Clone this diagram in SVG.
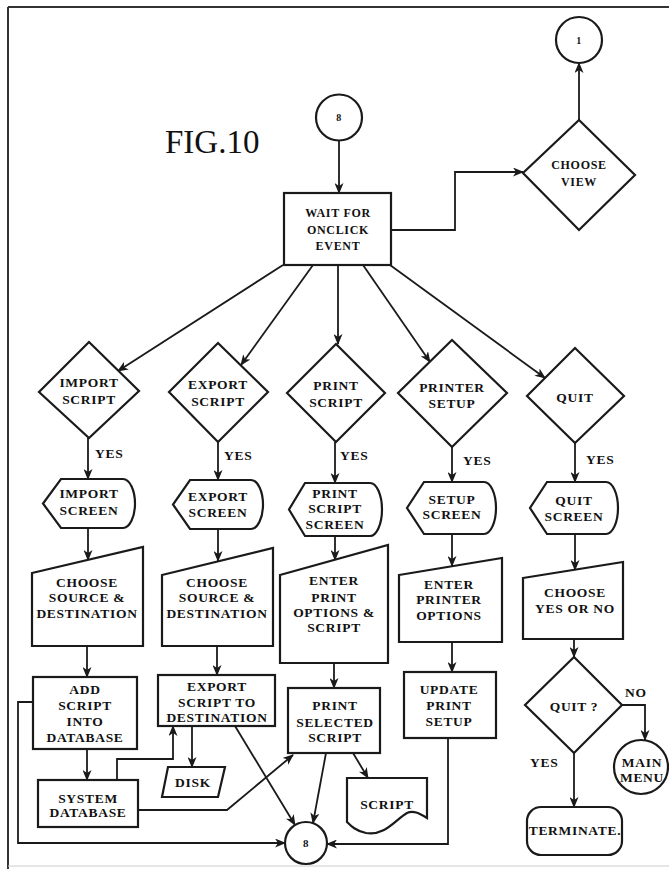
<svg xmlns="http://www.w3.org/2000/svg" width="669" height="869" viewBox="0 0 669 869">
<defs>
<style>
.s{fill:#fff;stroke:#1a1a1a;stroke-width:2.2}
.c{fill:none;stroke:#1a1a1a;stroke-width:1.8}
.t{font-family:"Liberation Serif","Times New Roman",serif;font-weight:bold;font-size:13.5px;fill:#111;text-anchor:middle;letter-spacing:0.7px}
.sm{font-size:12px}
.l{text-anchor:start}
.fig{font-family:"Liberation Serif","Times New Roman",serif;font-size:33px;fill:#111}
</style>
<marker id="a" markerWidth="11" markerHeight="9" refX="10" refY="4.5" orient="auto" markerUnits="userSpaceOnUse">
<path d="M0,0 L11,4.5 L0,9 L3,4.5 z" fill="#1a1a1a"/>
</marker>
</defs>
<rect x="0" y="0" width="669" height="869" fill="#fff"/>
<g id="frame">
<line x1="8" y1="7" x2="669" y2="7" stroke="#333" stroke-width="2"/>
<line x1="8" y1="7" x2="8" y2="869" stroke="#333" stroke-width="2"/>
<line x1="8" y1="866" x2="669" y2="866" stroke="#ccc" stroke-width="1"/>
</g>
<text class="fig" x="165" y="153">FIG.10</text>

<g id="connectors">
<path class="c" d="M339 140 V193" marker-end="url(#a)"/>
<path class="c" d="M391 230 H455 V172 H523" marker-end="url(#a)"/>
<path class="c" d="M579 120 V63" marker-end="url(#a)"/>
<path class="c" d="M283 265 L118 371" marker-end="url(#a)"/>
<path class="c" d="M313 265 L241 365" marker-end="url(#a)"/>
<path class="c" d="M338 265 V344" marker-end="url(#a)"/>
<path class="c" d="M363 265 L430 362" marker-end="url(#a)"/>
<path class="c" d="M390 265 L545 378" marker-end="url(#a)"/>
<path class="c" d="M88 438 V479" marker-end="url(#a)"/>
<path class="c" d="M218 442 V480" marker-end="url(#a)"/>
<path class="c" d="M335 442 V483" marker-end="url(#a)"/>
<path class="c" d="M452 447 V482" marker-end="url(#a)"/>
<path class="c" d="M575 443 V482" marker-end="url(#a)"/>
<path class="c" d="M88 528 V560" marker-end="url(#a)"/>
<path class="c" d="M218 529 V561" marker-end="url(#a)"/>
<path class="c" d="M335 536 V560" marker-end="url(#a)"/>
<path class="c" d="M452 534 V566" marker-end="url(#a)"/>
<path class="c" d="M575 534 V570" marker-end="url(#a)"/>
<path class="c" d="M87 646 V677" marker-end="url(#a)"/>
<path class="c" d="M217 646 V675" marker-end="url(#a)"/>
<path class="c" d="M334 663 V688" marker-end="url(#a)"/>
<path class="c" d="M452 642 V672" marker-end="url(#a)"/>
<path class="c" d="M574 639 V657" marker-end="url(#a)"/>
<path class="c" d="M87 749 V780" marker-end="url(#a)"/>
<path class="c" d="M192 726 V767" marker-end="url(#a)"/>
<path class="c" d="M117 780 V759 H173 V726" marker-end="url(#a)"/>
<path class="c" d="M138 810 H227 L293 755" marker-end="url(#a)"/>
<path class="c" d="M235 726 L295 825" marker-end="url(#a)"/>
<path class="c" d="M33 702 H18 V843 H285" marker-end="url(#a)"/>
<path class="c" d="M326 753 L313 823" marker-end="url(#a)"/>
<path class="c" d="M353 753 L368 778" marker-end="url(#a)"/>
<path class="c" d="M448 738 V844 H327" marker-end="url(#a)"/>
<path class="c" d="M622 705 H645 V740" marker-end="url(#a)"/>
<path class="c" d="M574 753 V807" marker-end="url(#a)"/>
</g>

<g id="labels">
<text class="t l" x="95" y="458">YES</text>
<text class="t l" x="224" y="460">YES</text>
<text class="t l" x="340" y="460">YES</text>
<text class="t l" x="463" y="465">YES</text>
<text class="t l" x="586" y="464">YES</text>
<text class="t l" x="625" y="697">NO</text>
<text class="t l" x="530" y="767">YES</text>
</g>

<g id="c8top"><circle class="s" cx="339" cy="117.5" r="23"/><text class="t" style="font-size:10px" x="339" y="121">8</text></g>
<g id="c1"><circle class="s" cx="579" cy="40" r="23"/><text class="t" style="font-size:10px" x="579" y="44">1</text></g>
<g id="wait"><rect class="s" x="284" y="193" width="107" height="72"/>
<text class="t sm" x="338" y="217">WAIT FOR</text><text class="t sm" x="338" y="234">ONCLICK</text><text class="t sm" x="338" y="250">EVENT</text></g>
<g id="chooseview"><path class="s" d="M579 120 L635 175 L579 230 L523 173 Z"/>
<text class="t sm" x="579" y="169">CHOOSE</text><text class="t sm" x="579" y="186">VIEW</text></g>

<g id="d-import"><path class="s" d="M89 342 L139 391 L89 438 L39 392 Z"/>
<text class="t" x="89" y="386.5">IMPORT</text><text class="t" x="89" y="403.5">SCRIPT</text></g>
<g id="d-export"><path class="s" d="M218 343 L268 392 L218 442 L169 392 Z"/>
<text class="t" x="218" y="389">EXPORT</text><text class="t" x="218" y="405.5">SCRIPT</text></g>
<g id="d-print"><path class="s" d="M336 344 L385 393 L336 442 L287 393 Z"/>
<text class="t" x="336" y="389.5">PRINT</text><text class="t" x="336" y="406.5">SCRIPT</text></g>
<g id="d-printer"><path class="s" d="M452 340 L507 393 L452 447 L398 393 Z"/>
<text class="t" x="452" y="391.5">PRINTER</text><text class="t" x="452" y="407.5">SETUP</text></g>
<g id="d-quit"><path class="s" d="M575 348 L624 396 L575 443 L527 396 Z"/>
<text class="t" x="575" y="401.5">QUIT</text></g>

<g id="s-import"><path class="s" d="M61 479 H123 A12 24.5 0 0 1 123 528 H61 L43 503.5 Z"/>
<text class="t" x="89" y="497.5">IMPORT</text><text class="t" x="89" y="514.5">SCREEN</text></g>
<g id="s-export"><path class="s" d="M190 480 H251 A12 24.5 0 0 1 251 529 H190 L173 504.5 Z"/>
<text class="t" x="218" y="501">EXPORT</text><text class="t" x="218" y="516.5">SCREEN</text></g>
<g id="s-print"><path class="s" d="M305 483 H370 A12 26.5 0 0 1 370 536 H305 L289 509.5 Z"/>
<text class="t" x="335" y="497.5">PRINT</text><text class="t" x="335" y="512.5">SCRIPT</text><text class="t" x="335" y="528.5">SCREEN</text></g>
<g id="s-setup"><path class="s" d="M424 482 H484 A12 26 0 0 1 484 534 H424 L407 508 Z"/>
<text class="t" x="452" y="503.5">SETUP</text><text class="t" x="452" y="518.5">SCREEN</text></g>
<g id="s-quit"><path class="s" d="M547 482 H606 A12 26 0 0 1 606 534 H547 L530 508 Z"/>
<text class="t" x="574" y="504.5">QUIT</text><text class="t" x="574" y="520.5">SCREEN</text></g>

<g id="m-import"><path class="s" d="M32 573 L143 547 L143 646 L32 646 Z"/>
<text class="t" x="87" y="586.5">CHOOSE</text><text class="t" x="87" y="601.5">SOURCE &amp;</text><text class="t" x="87" y="617.5">DESTINATION</text></g>
<g id="m-export"><path class="s" d="M162 575 L273 548 L273 646 L162 646 Z"/>
<text class="t" x="217" y="586.5">CHOOSE</text><text class="t" x="217" y="601.5">SOURCE &amp;</text><text class="t" x="217" y="617.5">DESTINATION</text></g>
<g id="m-print"><path class="s" d="M280 575 L388 545 L388 663 L280 663 Z"/>
<text class="t" x="334" y="584.5">ENTER</text><text class="t" x="334" y="601.5">PRINT</text><text class="t" x="334" y="616.5">OPTIONS &amp;</text><text class="t" x="334" y="631.5">SCRIPT</text></g>
<g id="m-printer"><path class="s" d="M399 575 L502 558 L502 642 L399 642 Z"/>
<text class="t" x="449" y="588.5">ENTER</text><text class="t" x="449" y="603.5">PRINTER</text><text class="t" x="449" y="619.5">OPTIONS</text></g>
<g id="m-quit"><path class="s" d="M523 578 L623 562 L623 639 L523 639 Z"/>
<text class="t" x="575" y="596.5">CHOOSE</text><text class="t" x="575" y="612.5">YES OR NO</text></g>

<g id="add"><rect class="s" x="33" y="677" width="104" height="72"/>
<text class="t" x="85" y="693.5">ADD</text><text class="t" x="85" y="709.5">SCRIPT</text><text class="t" x="85" y="725.5">INTO</text><text class="t" x="85" y="741.5">DATABASE</text></g>
<g id="exportbox"><rect class="s" x="158" y="675" width="117" height="51"/>
<text class="t" x="217" y="690.5">EXPORT</text><text class="t" x="217" y="706.5">SCRIPT TO</text><text class="t" x="217" y="721.5">DESTINATION</text></g>
<g id="printsel"><rect class="s" x="288" y="688" width="92" height="65"/>
<text class="t" x="335" y="709.5">PRINT</text><text class="t" x="335" y="726.5">SELECTED</text><text class="t" x="335" y="741.5">SCRIPT</text></g>
<g id="update"><rect class="s" x="404" y="672" width="92" height="66"/>
<text class="t" x="449" y="693.5">UPDATE</text><text class="t" x="449" y="709.5">PRINT</text><text class="t" x="449" y="725.5">SETUP</text></g>
<g id="quitq"><path class="s" d="M574 657 L622 705 L574 753 L525 705 Z"/>
<text class="t" x="574" y="710.5">QUIT ?</text></g>
<g id="sysdb"><rect class="s" x="38" y="780" width="100" height="47"/>
<text class="t" x="88" y="802.5">SYSTEM</text><text class="t" x="88" y="816.5">DATABASE</text></g>
<g id="disk"><path class="s" d="M168 767 L225 767 L218 797 L162 797 Z"/>
<text class="t" x="193" y="786.5">DISK</text></g>
<g id="scriptdoc"><path class="s" d="M347 778 H427 V818 C419 813 413 810 407 813 C395 820 385 836 366 833 C356 831 351 826 347 822 Z"/>
<text class="t" x="387" y="808.5">SCRIPT</text></g>
<g id="mainmenu"><circle class="s" cx="641" cy="767" r="27"/>
<text class="t" x="642" y="766.5">MAIN</text><text class="t" x="642" y="781.5">MENU</text></g>
<g id="terminate"><rect class="s" x="527" y="807" width="95" height="48" rx="14" ry="14"/>
<text class="t" x="575" y="834.5">TERMINATE.</text></g>
<g id="c8bottom"><circle class="s" cx="306" cy="843" r="21"/><text class="t" style="font-size:11px" x="306" y="847">8</text></g>
</svg>
